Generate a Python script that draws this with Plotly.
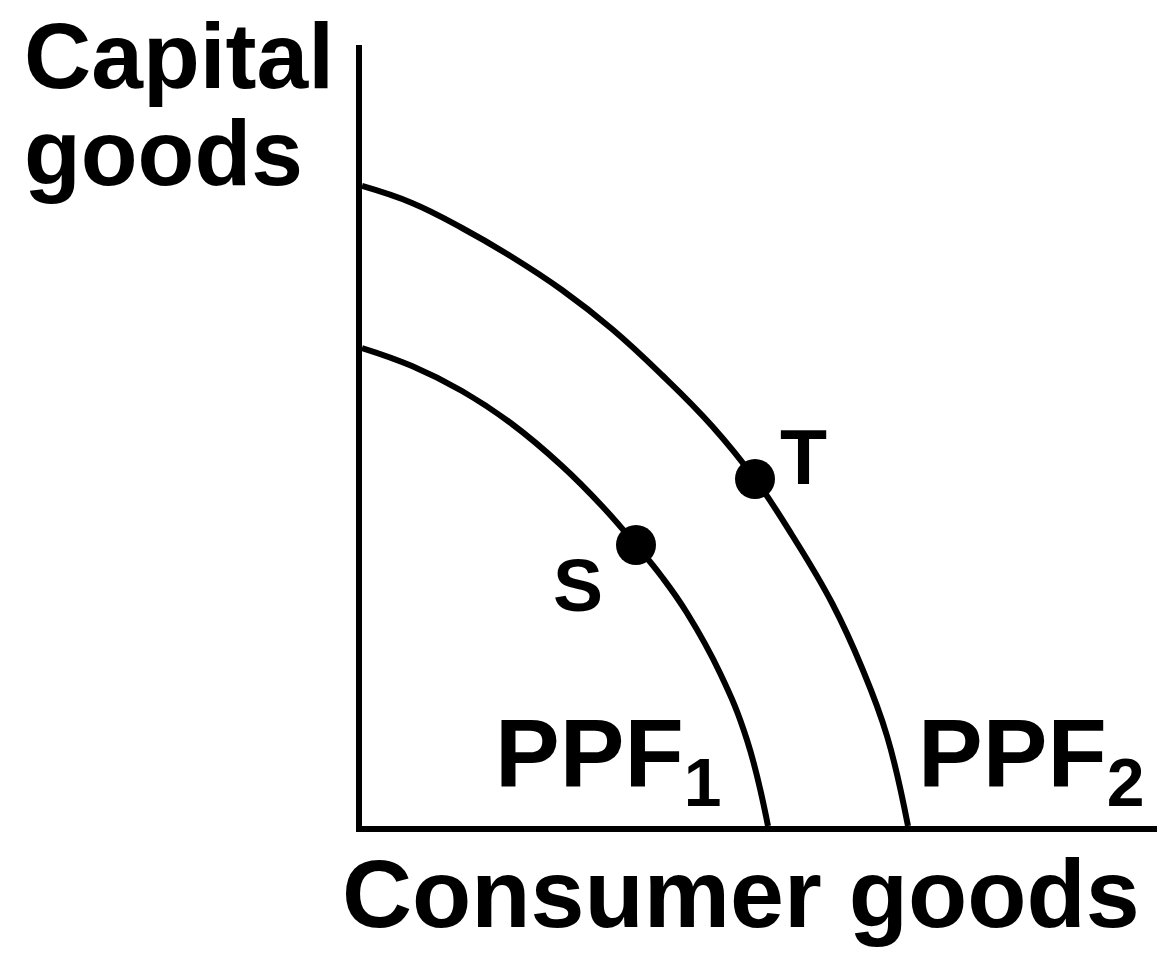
"""
Production possibility frontiers PPF1 and PPF2, with points S and T.
"""

import plotly.graph_objects as go

# curve points (consumer goods, capital goods)
ppf1_x = [0, 50, 100, 150, 200, 240, 274, 300, 325, 358, 385, 406]
ppf1_y = [478, 460, 435, 402, 360, 320, 281, 249, 213, 153, 86, 0]

ppf2_x = [0, 50, 100, 150, 200, 250, 300, 350, 393, 430, 470, 500, 525, 546]
ppf2_y = [640, 623, 598, 569, 536, 497, 451, 400, 347, 291, 223, 158, 90, 0]

point_names = ["S", "T"]
point_x = [274, 393]
point_y = [281, 347]

X_RANGE = [0, 803]
Y_RANGE = [0, 781]

FONT = "Liberation Sans, Arial, sans-serif"


def label(text, x, y, size, xanchor="center", ref="data"):
    xref, yref = ("x", "y") if ref == "data" else ("paper", "paper")
    return dict(
        text=text, x=x, y=y, xref=xref, yref=yref,
        xanchor=xanchor, yanchor="middle", showarrow=False,
        font=dict(family=FONT, size=size, color="black", weight="bold"),
    )


def main():
    fig = go.Figure()

    for xs, ys in [(ppf1_x, ppf1_y), (ppf2_x, ppf2_y)]:
        fig.add_trace(go.Scatter(
            x=xs, y=ys, mode="lines",
            line=dict(color="black", width=6, shape="spline", smoothing=1.2),
            hoverinfo="skip",
        ))

    fig.add_trace(go.Scatter(
        x=point_x, y=point_y, mode="markers", text=point_names,
        marker=dict(color="black", size=40),
        cliponaxis=False,
    ))

    annotations = [
        label("Capital", -0.4234, 0.9860, 93, "left", ref="paper"),
        label("goods", -0.4234, 0.8617, 93, "left", ref="paper"),
        label("Consumer goods", 0.4720, -0.0870, 97, ref="paper"),
        label("PPF<sub>1</sub>", 131, 67, 97, "left"),
        label("PPF<sub>2</sub>", 554, 67, 97, "left"),
        label("S", 216, 241, 75),
        label("T", 441, 369, 77),
    ]

    # the page body has an 8px margin, so the margins are shifted to suit
    fig.update_layout(
        width=1165,
        height=953,
        margin=dict(l=354, r=8, t=37, b=135),
        paper_bgcolor="white",
        plot_bgcolor="white",
        showlegend=False,
        annotations=annotations,
    )
    axis_style = dict(
        showline=True, linecolor="black", linewidth=6,
        showgrid=False, zeroline=False, showticklabels=False, ticks="",
    )
    fig.update_xaxes(range=X_RANGE, **axis_style)
    fig.update_yaxes(range=Y_RANGE, **axis_style)

    fig.write_html("out.html")


if __name__ == "__main__":
    main()
